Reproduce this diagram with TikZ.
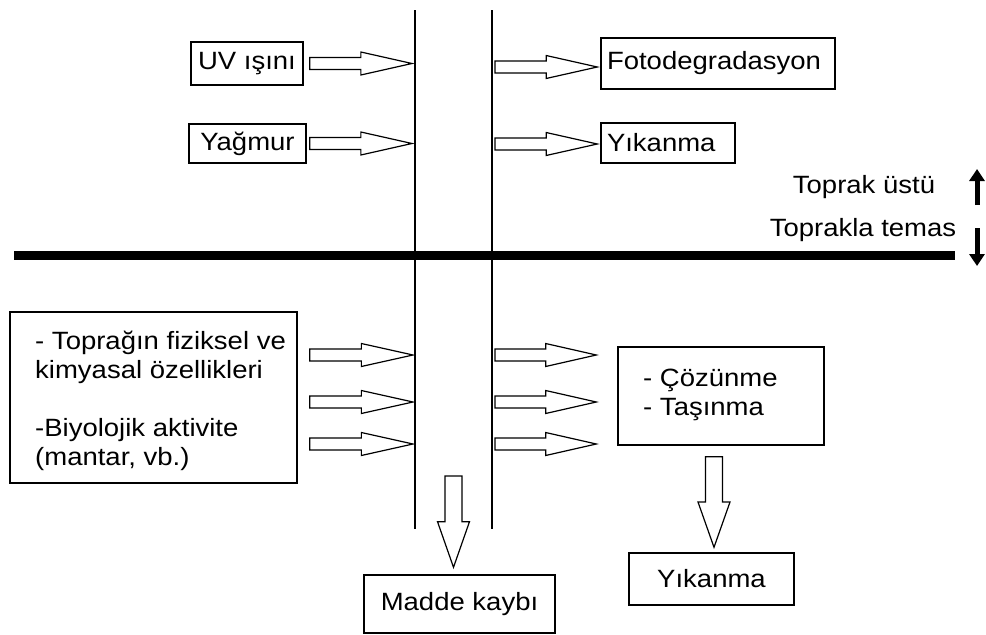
\documentclass[tikz,border=0pt]{standalone}
\usepackage{fontspec}
\setmainfont{Liberation Sans}[FakeStretch=1.1]
\usetikzlibrary{positioning, calc, arrows.meta}

\tikzset{
  box/.style={draw, line width=1.4pt, inner sep=0pt, font=\fontsize{25}{29}\selectfont},
  txt/.style={inner sep=0pt, font=\fontsize{25}{29}\selectfont},
  wall/.style={line width=1.5pt},
  ground/.style={line width=9pt},
  blockarrow/.style 2 args={draw, line width=1.2pt, fill=white, to path={
      ($(\tikztostart)!#1!90:(\tikztotarget)$)
      -- ($(\tikztostart)!.5!(\tikztotarget)!#1!90:(\tikztotarget)$)
      -- ($(\tikztostart)!.5!(\tikztotarget)!#2!90:(\tikztotarget)$)
      -- (\tikztotarget)
      -- ($(\tikztostart)!.5!(\tikztotarget)!#2!-90:(\tikztotarget)$)
      -- ($(\tikztostart)!.5!(\tikztotarget)!#1!-90:(\tikztotarget)$)
      -- ($(\tikztostart)!#1!-90:(\tikztotarget)$) -- cycle}},
  hblock/.style={blockarrow={6pt}{11.5pt}},
  vblock/.style={blockarrow={8.5pt}{16pt}},
  level/.style={line width=5pt, -{Triangle[length=12pt,width=15pt]}}
}

\begin{document}
\begin{tikzpicture}[x=1pt, y=-1pt]
  \useasboundingbox (0,0) rectangle (986,635);

  % the two walls and the ground
  \coordinate (wl) at (415,10);
  \coordinate (wr) at (492,10);
  \draw[wall] (wl) -- (415,529);
  \draw[wall] (wr) -- (492,529);
  \draw[ground] (14,255.5) -- (955,255.5);

  % above the soil
  \node[box, minimum width=112pt, minimum height=43pt] (uv) at (247,63.5) {UV ışını};
  \node[box, minimum width=117pt, minimum height=39pt] (rain) at (247.5,143.5) {Yağmur};
  \node[box, minimum width=234pt, minimum height=51pt, text width=222pt, align=left] (foto) at (718,63.5) {Fotodegradasyon};
  \node[box, minimum width=134pt, minimum height=40pt, text width=122pt, align=left] (wash1) at (668,143) {Yıkanma};

  \draw[hblock] ($(uv.east)+(6,0)$) to ($(uv.east -| wl)+(-3,0)$);
  \draw[hblock] ($(rain.east)+(3,0)$) to ($(rain.east -| wl)+(-3,0)$);
  \draw[hblock] ($(foto.west -| wr)+(3,3.5)$) to ($(foto.west)+(-3,3.5)$);
  \draw[hblock] ($(wash1.west -| wr)+(3,1)$) to ($(wash1.west)+(-3,1)$);

  % legend
  \node[txt] (above) at (864,187) {Toprak üstü};
  \node[txt] (below) at (863,230) {Toprakla temas};
  \coordinate (upA) at (977,205);
  \coordinate (upB) at (977,169);
  \coordinate (downA) at (977,228);
  \coordinate (downB) at (977,266);
  \draw[level] (upA) -- (upB);
  \draw[level] (downA) -- (downB);

  % in the soil
  \node[box, minimum width=287pt, minimum height=171pt] (soil) at (153.5,397.5) {};
  \node[txt, anchor=base west, align=left] (soiltxt) at (35,465)
    {- Toprağın fiziksel ve\\ kimyasal özellikleri\\[29pt] -Biyolojik aktivite\\ (mantar, vb.)};
  \node[box, minimum width=206pt, minimum height=98pt] (sol) at (721,396) {};
  \node[txt, anchor=base west, align=left] (soltxt) at (643,415.5) {- Çözünme\\ - Taşınma};

  \foreach \r [count=\i] in {355,402,444} {
    \coordinate (row\i) at (0,\r);
    \draw[hblock] ($(soil.east |- row\i)+(12,0)$) to ($(wl |- row\i)+(-2,0)$);
    \draw[hblock] ($(wr |- row\i)+(3,0)$) to ($(sol.west |- row\i)+(-21,0)$);
  }

  % losses
  \node[box, minimum width=191pt, minimum height=58pt] (madde) at (459.5,604) {Madde kaybı};
  \node[box, minimum width=165pt, minimum height=52pt] (wash) at (711.5,579) {Yıkanma};
  \coordinate (drain) at (453.5,476);
  \draw[vblock] (drain) to ($(madde.north -| drain)+(0,-7)$);
  \draw[vblock] ($(sol.south)+(-7,11)$) to ($(wash.north)+(2.5,-5)$);
\end{tikzpicture}
\end{document}
